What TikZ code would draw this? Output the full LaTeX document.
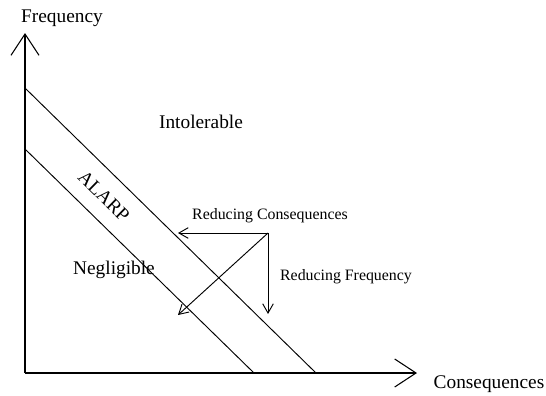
\documentclass[tikz,border=0pt]{standalone}
\usepackage{fontspec}
\setmainfont{Liberation Serif}
\usetikzlibrary{arrows.meta}

\tikzset{
  axis/.style={line width=1.1pt, -{Straight Barb[length=16pt, width=21pt, line width=0.8pt]}},
  band/.style={line width=0.7pt},
  move/.style={line width=0.7pt, -{Straight Barb[length=7pt, width=8pt]}},
  big/.style={inner sep=1pt, font=\fontsize{14.5}{16}\selectfont},
  small/.style={inner sep=1pt, font=\fontsize{11.9}{13}\selectfont}
}

\begin{document}
\begin{tikzpicture}[x=0.75pt, y=-0.75pt]
      \useasboundingbox (0, 0) rectangle (546, 396);
      \coordinate (origin) at (25, 373);
      \coordinate (ytop) at (25, 33);
      \coordinate (xend) at (417, 373);
      \coordinate (hi0) at (25, 88);
      \coordinate (hi1) at (316, 373);
      \coordinate (lo0) at (25, 149);
      \coordinate (lo1) at (254, 373);
      \coordinate (start) at (268, 233);
      \coordinate (left) at (178, 233);
      \coordinate (down) at (268, 314);
      \coordinate (diag) at (178, 315);
      % axes
      \draw[axis] (origin) -- (ytop);
      \draw[axis] (origin) -- (xend);
      \node[big] (freq) at (62, 18) {Frequency};
      \node[big] (cons) at (489, 384) {Consequences};
      % ALARP band
      \draw[band] (hi0) -- (hi1);
      \draw[band] (lo0) -- (lo1);
      \node[big, rotate=-44.4] (alarp) at (104, 196) {ALARP};
      \node[big] (intol) at (201, 122) {Intolerable};
      \node[big] (negl) at (114, 270) {Negligible};
      % risk reduction
      \draw[move] (start) -- (left);
      \draw[move] (start) -- (down);
      \draw[move] (start) -- (diag);
      \node[small] (rcons) at (270, 216) {Reducing Consequences};
      \node[small] (rfreq) at (346, 277) {Reducing Frequency};
\end{tikzpicture}
\end{document}
